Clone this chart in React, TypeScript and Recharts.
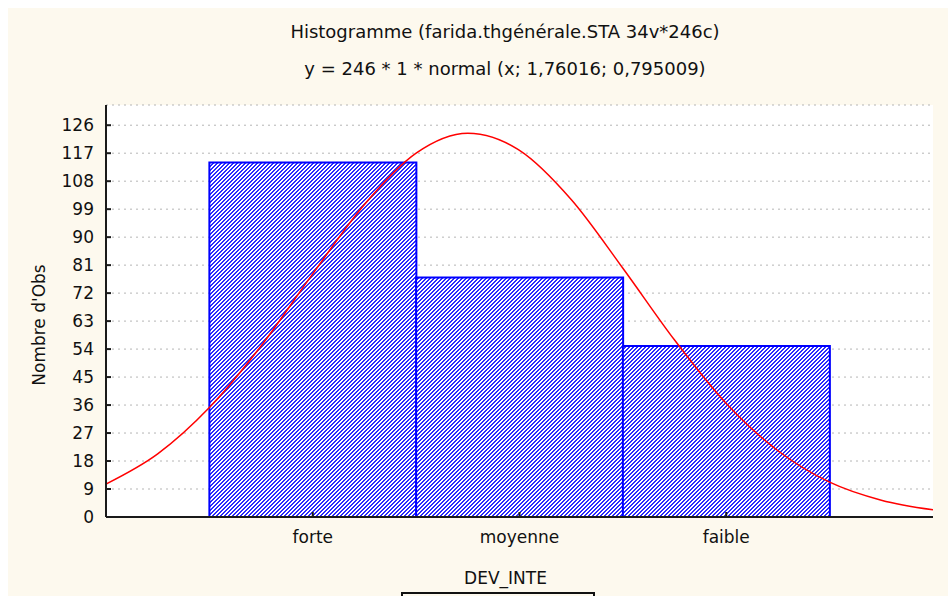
import React from "react";
import { ComposedChart, Bar, Line, XAxis, YAxis, CartesianGrid, Label } from "recharts";

// histogram bins (one per class of DEV_INTE)
const categories = ["forte", "moyenne", "faible"];
const binCenters = [1, 2, 3];
const counts = [114, 77, 55];

const yTicks = [0, 9, 18, 27, 36, 45, 54, 63, 72, 81, 90, 99, 108, 117, 126];

// fitted normal curve
const curveX = [0, 0.25, 0.5, 0.75, 1, 1.25, 1.5, 1.75, 2, 2.25, 2.5, 2.75, 3, 3.25, 3.5, 3.75, 4];
const curveY = [10.6, 20.3, 35.2, 55.0, 78.2, 100.5, 117.0, 123.4, 117.9, 102.1, 80.0, 56.9, 36.5, 21.3, 11.2, 5.4, 2.3];

const barData = categories.map((name, i) => ({ x: binCenters[i], name, count: counts[i] }));
const curveData = curveX.map((x, i) => ({ x, y: curveY[i] }));

const FONT = "'DejaVu Sans', sans-serif";
const INK = "#111";
const AXIS = { stroke: "#1a1a1a", strokeWidth: 2 };

export default function App() {
  return (
    <div
      style={{
        position: "fixed",
        top: 8,
        left: 8,
        right: 0,
        bottom: 0,
        overflow: "hidden",
        background: "#fdf9ee",
        fontFamily: FONT,
        color: INK,
      }}
    >
      <div style={{ position: "absolute", left: 197, width: 600, top: 13, textAlign: "center", fontSize: 18, lineHeight: "22px" }}>
        Histogramme (farida.thgénérale.STA 34v*246c)
      </div>
      <div style={{ position: "absolute", left: 197, width: 600, top: 50, textAlign: "center", fontSize: 18, lineHeight: "22px" }}>
        y = 246 * 1 * normal (x; 1,76016; 0,795009)
      </div>

      <div style={{ position: "absolute", top: 0, left: 0 }}>
        <ComposedChart
          width={940}
          height={588}
          data={barData}
          margin={{ top: 97, right: 15, bottom: 0, left: 0 }}
          barCategoryGap={0}
          barGap={0}
          style={{ fontFamily: FONT }}
        >
          <defs>
            {/* pixel hatch "////" in blue */}
            <pattern id="hatch" patternUnits="userSpaceOnUse" width="4" height="4">
              <rect width="4" height="4" fill="#ffffff" />
              <path
                d="M3,0h1v1h-1z M0,0h1v1h-1z M2,1h2v1h-2z M1,2h2v1h-2z M0,3h2v1h-2z"
                fill="#2a2aff"
                shapeRendering="crispEdges"
              />
            </pattern>
          </defs>
          <CartesianGrid vertical={false} fill="#ffffff" stroke="#b5b5b5" strokeDasharray="2 4" />
          <XAxis
            dataKey="x"
            type="number"
            domain={[0, 4]}
            ticks={binCenters}
            interval={0}
            allowDataOverflow
            height={79}
            tickSize={-5}
            tickMargin={19}
            tickFormatter={(v: number) => categories[binCenters.indexOf(v)]}
            axisLine={AXIS}
            tickLine={AXIS}
            tick={{ fill: INK, fontSize: 17 }}
          >
            <Label
              content={({ viewBox }: any) => (
                <text x={viewBox.x + viewBox.width / 2 - 14} y={viewBox.y + 67} textAnchor="middle" fill={INK} fontSize={17}>
                  DEV_INTE
                </text>
              )}
            />
          </XAxis>
          <XAxis
            xAxisId="top"
            orientation="top"
            type="number"
            domain={[0, 4]}
            ticks={binCenters}
            interval={0}
            allowDataOverflow
            height={0}
            tickSize={-5}
            tickFormatter={() => ""}
            axisLine={AXIS}
            tickLine={AXIS}
          />
          <XAxis xAxisId="curve" dataKey="x" type="number" domain={[0, 4]} allowDataOverflow hide />
          <YAxis
            type="number"
            domain={[0, 132.5]}
            ticks={yTicks}
            interval={0}
            allowDataOverflow
            width={98}
            tickSize={-5}
            tickMargin={17}
            axisLine={AXIS}
            tickLine={AXIS}
            tick={{ fill: INK, fontSize: 17 }}
          >
            <Label
              content={({ viewBox }: any) => {
                const cx = viewBox.x + 31;
                const cy = viewBox.y + viewBox.height / 2 + 14;
                return (
                  <text x={cx} y={cy} transform={`rotate(-90, ${cx}, ${cy})`} textAnchor="middle" dominantBaseline="central" fill={INK} fontSize={17}>
                    Nombre d'Obs
                  </text>
                );
              }}
            />
          </YAxis>
          <YAxis
            yAxisId="right"
            orientation="right"
            type="number"
            domain={[0, 132.5]}
            ticks={yTicks}
            interval={0}
            allowDataOverflow
            width={0}
            tickSize={-5}
            tickFormatter={() => ""}
            axisLine={AXIS}
            tickLine={AXIS}
          />
          <Bar dataKey="count" fill="url(#hatch)" stroke="#0000ff" strokeWidth={2} isAnimationActive={false} />
          <Line
            xAxisId="curve"
            data={curveData}
            dataKey="y"
            type="monotone"
            stroke="#ff0000"
            strokeWidth={1.5}
            dot={false}
            activeDot={false}
            isAnimationActive={false}
          />
        </ComposedChart>
      </div>

      <div style={{ position: "absolute", left: 393, top: 584, width: 190, height: 30, border: "2px solid #111" }} />
    </div>
  );
}
